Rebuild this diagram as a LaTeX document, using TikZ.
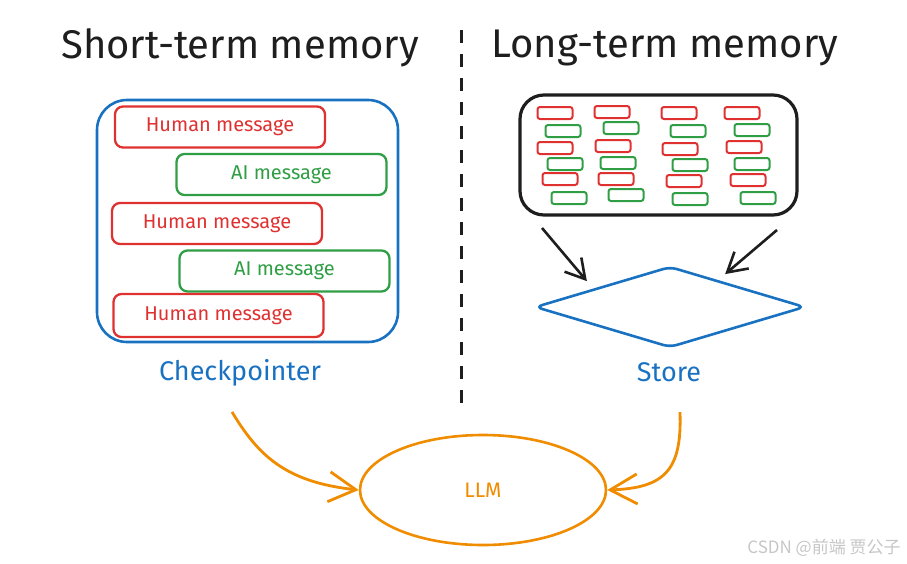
\documentclass[tikz,border=0pt]{standalone}
\usepackage{fontspec}
\setmainfont{Fira Sans}
\newfontfamily\cjkfont{Noto Sans CJK SC}
\usepackage{tikz}
\usetikzlibrary{shapes.geometric,arrows.meta}

\definecolor{xred}{HTML}{E03131}
\definecolor{xgreen}{HTML}{2F9E44}
\definecolor{xblue}{HTML}{1971C2}
\definecolor{xorange}{HTML}{F08C00}
\definecolor{xblack}{HTML}{1E1E1E}

\begin{document}
\begin{tikzpicture}[x=1pt,y=-1pt,
  msg/.style={draw,rounded corners=8pt,line width=2.3pt,minimum width=210pt,
    minimum height=41pt,inner sep=0pt,font=\fontsize{20}{24}\selectfont},
  human/.style={msg,xred,text=xred},
  ai/.style={msg,xgreen,text=xgreen},
  chip/.style={draw,rounded corners=2.5pt,line width=2pt,minimum width=35pt,
    minimum height=12pt,inner sep=0pt},
  title/.style={text=xblack,font=\fontsize{40}{44}\selectfont},
  label/.style={text=xblue,font=\fontsize{27}{30}\selectfont},
  barb/.style={line width=2.6pt,-{Straight Barb[length=19pt,width=22pt,line width=2.6pt]}},
  bigbarb/.style={line width=2.8pt,-{Straight Barb[length=27pt,width=30pt,line width=2.8pt]}}]
  \useasboundingbox (0,0) rectangle (907,563);

  % headings and divider
  \node[title] (stm) at (240,48) {Short-term memory};
  \node[title] (ltm) at (665,48) {Long-term memory};
  \coordinate (d1) at (461,30);
  \coordinate (d2) at (461,412);
  \draw[xblack,line width=3pt,dash pattern=on 13pt off 11pt] (d1) -- (d2);

  % short-term: checkpointer
  \node[draw=xblue,line width=2.6pt,rounded corners=30pt,minimum width=301pt,
    minimum height=242pt] (ckbox) at (247.5,221) {};
  \node[human] (h1) at (220,127) {Human message};
  \node[ai] (a1) at (281.5,174.5) {AI message};
  \node[human] (h2) at (217,223.5) {Human message};
  \node[ai] (a2) at (284.5,271) {AI message};
  \node[human,minimum height=43pt] (h3) at (218.5,315.5) {Human message};
  \node[label] (ck) at (240,373) {Checkpointer};

  % long-term: store
  \node[draw=xblack,line width=3.2pt,rounded corners=24pt,minimum width=277pt,
    minimum height=120pt] (mem) at (658.5,155) {};
  \foreach \x/\y [count=\n] in {555/113,612/112,679/113,742/113,
      555/148,613/146,680/149,744/147,
      560/179,616/179,684/181,748/180}
    \node[chip,xred] (r\n) at (\x,\y) {};
  \foreach \x/\y [count=\n] in {563/131,621/128,688/131,752/130,
      565/164,618/163,690/165,752/164,
      569/198,626/195,690/199,758/198}
    \node[chip,xgreen] (g\n) at (\x,\y) {};
  \node[diamond,draw=xblue,line width=2.6pt,rounded corners=7pt,minimum width=270pt,
    minimum height=81pt,inner sep=0pt] (store) at (670,307) {};
  \node[label] (st) at (669,372) {Store};
  \coordinate (m1) at (542,228);
  \coordinate (m2) at (777,230);
  \draw[barb,xblack] (m1) -- ([shift={(-15,-5)}]store.north west);
  \draw[barb,xblack] (m2) -- ([shift={(-13,-12)}]store.north east);

  % model
  \node[ellipse,draw=xorange,line width=2.6pt,minimum width=246pt,minimum height=110pt,
    text=xorange,font=\fontsize{21}{24}\selectfont] (llm) at (483,490) {LLM};
  \draw[bigbarb,xorange] ([shift={(-8,22)}]ck.south) .. controls (258,455) and (285,482) .. (llm.west);
  \draw[bigbarb,xorange] ([shift={(11,27)}]st.south) .. controls (682,470) and (665,488) .. (llm.east);

  \node[text=gray!45,font=\cjkfont\fontsize{17}{20}\selectfont] (wm) at (824,548) {CSDN @前端 贾公子};
\end{tikzpicture}
\end{document}
